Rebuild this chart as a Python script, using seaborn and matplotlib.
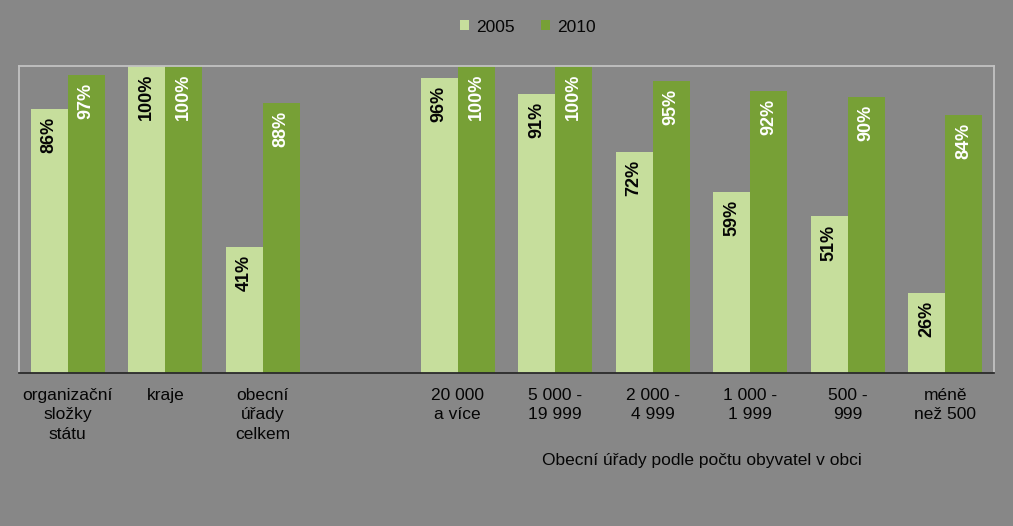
import matplotlib
matplotlib.use("Agg")
import matplotlib.pyplot as plt
import seaborn as sns
import pandas as pd
from matplotlib.patches import Patch
import matplotlib.transforms as mtransforms

categories = ["organizační\nsložky\nstátu", "kraje", "obecní\núřady\ncelkem", " ",
              "20 000\na více", "5 000 -\n19 999", "2 000 -\n4 999",
              "1 000 -\n1 999", "500 -\n999", "méně\nnež 500"]
values_2005 = [86, 100, 41, None, 96, 91, 72, 59, 51, 26]
values_2010 = [97, 100, 88, None, 100, 100, 95, 92, 90, 84]
years = ["2005", "2010"]
xlabel_text = "Obecní úřady podle počtu obyvatel v obci"

rows = []
for cat, v5, v10 in zip(categories, values_2005, values_2010):
    if v5 is not None:
        rows.append({"cat": cat, "year": "2005", "val": v5})
    if v10 is not None:
        rows.append({"cat": cat, "year": "2010", "val": v10})
df = pd.DataFrame(rows)

BG = "#878787"
LIGHT = "#c6de9c"
DARK = "#77a036"
BORDER = "#c2c2c2"
TXT = "#050505"

sns.set_style("white")
plt.rcParams["font.family"] = ["Liberation Sans", "DejaVu Sans"]

fig = plt.figure(figsize=(10.13, 5.26), dpi=100, facecolor=BG)
ax = fig.add_axes([19/1013, (526-373)/526, (994-19)/1013, (373-66)/526])
ax.set_facecolor(BG)

sns.barplot(data=df, x="cat", y="val", hue="year", order=categories,
            hue_order=years, palette=[LIGHT, DARK], width=0.76,
            errorbar=None, legend=False, saturation=1, linewidth=0, ax=ax)

ax.set_xlim(-0.5, len(categories) - 0.5)
ax.set_ylim(0, 100)
ax.set_yticks([])
ax.set_ylabel("")
ax.set_xlabel("")
ax.tick_params(axis="x", length=0, pad=11, labelsize=12.5, labelcolor=TXT)
for lab in ax.get_xticklabels():
    lab.set_linespacing(1.35)

for side in ["top", "left", "right"]:
    ax.spines[side].set_visible(True)
    ax.spines[side].set_color(BORDER)
    ax.spines[side].set_linewidth(1.3)
ax.spines["bottom"].set_color("#2a2a2a")
ax.spines["bottom"].set_linewidth(1.3)

text_colors = [TXT, "white"]
for container, tc in zip(ax.containers, text_colors):
    for bar in container:
        h = bar.get_height()
        if h != h:
            continue
        ax.text(bar.get_x() + bar.get_width() / 2, h - 2.6, f"{h:.0f}%",
                rotation=90, ha="center", va="top", color=tc,
                fontsize=13, fontweight="bold")

# group axis label under the municipal categories
trans = mtransforms.blended_transform_factory(ax.transData, fig.transFigure)
ax.text(6.5, 1 - 460/526, xlabel_text, transform=trans, ha="center",
        va="center", fontsize=12.5, color=TXT)

handles = [Patch(facecolor=LIGHT, edgecolor="none", label=years[0]),
           Patch(facecolor=DARK, edgecolor="none", label=years[1])]
fig.legend(handles=handles, loc="center", bbox_to_anchor=(528/1013, 1 - 27/526),
           ncol=2, frameon=False, fontsize=12.5, handlelength=0.5,
           handleheight=0.5, handletextpad=0.45, columnspacing=1.5,
           labelcolor=TXT)

fig.savefig("out.png", dpi=100, facecolor=BG)
